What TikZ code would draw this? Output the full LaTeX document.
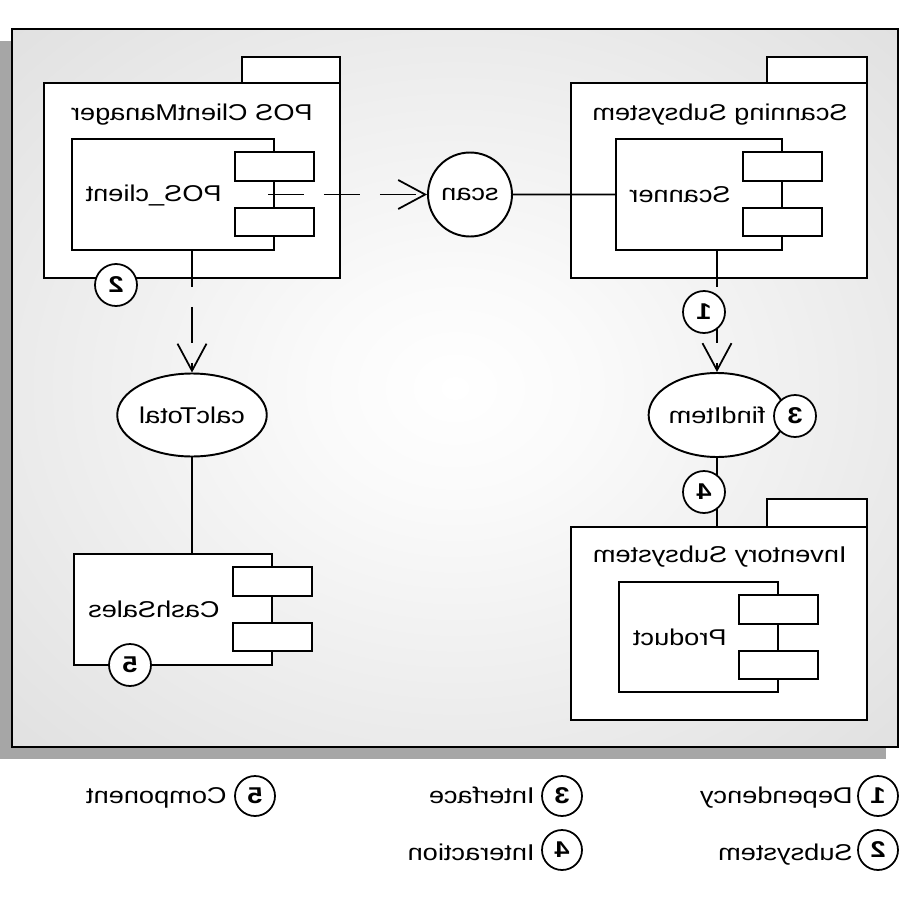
\documentclass[tikz,border=0pt]{standalone}
\usepackage{fontspec}
\setmainfont{Liberation Sans}[FakeStretch=1.19]
\usepackage{graphicx}
\usetikzlibrary{arrows.meta,fit,calc,shapes.geometric}

% all lettering is set mirror-wise
\newcommand\mirr[1]{\reflectbox{#1}}

% soft light-centred fill of the frame
\pgfdeclareradialshading{framesh}{\pgfpoint{0bp}{0bp}}{%
  color(0bp)=(white); color(8bp)=(white!98!black);
  color(50bp)=(black!17); color(72bp)=(black!21)}

\tikzset{
  boxline/.style={draw=black, line width=1.1pt, fill=white},
  fitbox/.style={boxline, rectangle, inner sep=0pt},
  lbl/.style={inner sep=0pt, font=\fontsize{13}{15}\selectfont},
  iface/.style={boxline, ellipse, inner sep=0pt, font=\fontsize{13}{15}\selectfont},
  num/.style={circle, draw=black, line width=1pt, fill=white, minimum size=0.84cm,
              inner sep=0pt, font=\bfseries\fontsize{13}{15}\selectfont},
  legnum/.style={num, minimum size=0.8cm},
  link/.style={draw=black, line width=1pt},
  dep/.style={link, dash pattern=on 0.72cm off 0.4cm,
              -{Straight Barb[length=0.54cm, width=0.58cm, line width=1pt]}},
}

% component: body plus the two small port rectangles on its right edge
\newcommand\compo[5]{%
  \node[fitbox, fit={(#2,#3)(#4,#5)}] (#1) {};
  \draw[boxline] ([shift={(-40,14)}]#1.north east) rectangle ++(79,29);
  \draw[boxline] ([shift={(-40,70)}]#1.north east) rectangle ++(79,28);
}

\begin{document}
\begin{tikzpicture}[x=0.02cm, y=-0.02cm]
\useasboundingbox (0,0) rectangle (900,899);

% drop shadow and shaded frame
\fill[gray!70] (0,41) rectangle (886,759);
\path[shade, shading=framesh] (12,29) rectangle (898,747);
\draw[black, line width=1.3pt] (12,29) rectangle (898,747);

% packages (subsystems)
\node[fitbox, fit={(242,57)(340,83)}] (P1tab) {};
\node[fitbox, fit={(44,83)(340,278)}] (P1) {};
\node[lbl, anchor=base east] (P1lbl) at (313,120) {\mirr{POS ClientManager}};

\node[fitbox, fit={(767,57)(867,83)}] (P2tab) {};
\node[fitbox, fit={(571,83)(867,278)}] (P2) {};
\node[lbl, anchor=base east] (P2lbl) at (848,120) {\mirr{Scanning Subsystem}};

\node[fitbox, fit={(767,499)(867,527)}] (P3tab) {};
\node[fitbox, fit={(571,527)(867,720)}] (P3) {};
\node[lbl, anchor=base east] (P3lbl) at (847,562) {\mirr{Inventory Subsystem}};

% components
\compo{C1}{72}{139}{274}{250}
\node[lbl, anchor=base east] (C1lbl) at (222,201) {\mirr{POS\_client}};
\compo{C2}{616}{139}{782}{250}
\node[lbl, anchor=base east] (C2lbl) at (731,202) {\mirr{Scanner}};
\compo{C3}{619}{582}{778}{692}
\node[lbl, anchor=base east] (C3lbl) at (727,645) {\mirr{Product}};
\compo{C4}{74}{554}{272}{665}
\node[lbl, anchor=base east] (C4lbl) at (220,617) {\mirr{CashSales}};

% interfaces
\node[iface, circle, minimum size=1.68cm] (scan) at (470,194.5) {\mirr{scan}};
\node[iface, minimum width=2.52cm, minimum height=1.66cm] (calc) at (192,415) {\mirr{calcTotal}};
\node[iface, minimum width=2.46cm, minimum height=1.68cm] (find) at (717,415) {\mirr{findItem}};

% connectors
\coordinate (C1port) at (268,194.5);
\draw[dep] (C1port) -- (scan.west);
\draw[link] (scan.east) -- (C2.west);
\draw[dep] (C2.south -| find.north) -- (find.north);
\draw[dep] (C1.south -| calc.north) -- (calc.north);
\draw[link] (calc.south) -- (calc.south |- C4.north);
\draw[link] (find.south) -- (find.south |- P3.north);

% callout numbers
\node[num] (n1) at (704,312) {\mirr{1}};
\node[num] (n2) at (116,285) {\mirr{2}};
\node[num] (n3) at (795,416) {\mirr{3}};
\node[num] (n4) at (704,492) {\mirr{4}};
\node[num] (n5) at (130,665) {\mirr{5}};

% legend
\node[legnum] (L1) at (878,796) {\mirr{1}};
\node[lbl, anchor=base east] (L1t) at (853,803) {\mirr{Dependency}};
\node[legnum] (L2) at (878,850) {\mirr{2}};
\node[lbl, anchor=base east] (L2t) at (853,860) {\mirr{Subsystem}};
\node[legnum] (L3) at (562,796) {\mirr{3}};
\node[lbl, anchor=base east] (L3t) at (535,803) {\mirr{Interface}};
\node[legnum] (L4) at (562,850) {\mirr{4}};
\node[lbl, anchor=base east] (L4t) at (535,860) {\mirr{Interaction}};
\node[legnum] (L5) at (255,796) {\mirr{5}};
\node[lbl, anchor=base east] (L5t) at (227,803) {\mirr{Component}};
\end{tikzpicture}
\end{document}
